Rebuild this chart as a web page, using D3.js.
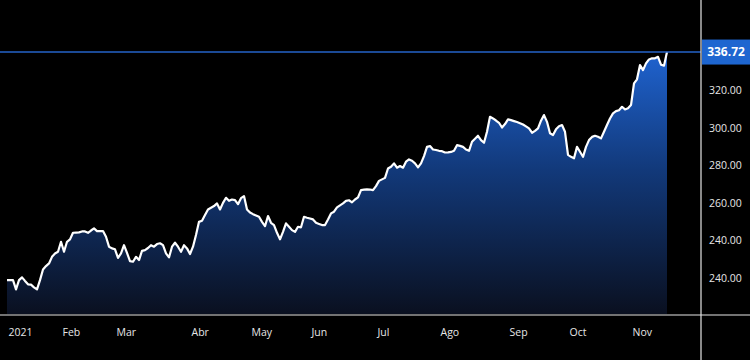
<!DOCTYPE html>
<html>
<head>
<meta charset="utf-8">
<script src="https://cdn.jsdelivr.net/npm/d3@7"></script>
<style>
  html, body { margin: 0; padding: 0; background: #000; }
  svg { display: block; }
  text { font-family: 'Open Sans', 'Noto Sans', sans-serif; }
</style>
</head>
<body>
<div id="chart"></div>
<script>

// daily closes, one per trading day (index 0 = first session of 2021)
const closes = [
    215.4, 215.4, 215.4, 210.5, 215.4, 216.9, 215.0, 213.2, 213.0, 211.6,
    210.5, 215.4, 221.1, 222.9, 224.3, 227.8, 229.6, 230.5, 235.8, 230.5,
    235.8, 237.1, 240.6, 240.7, 240.8, 241.3, 241.3, 240.6, 241.8, 242.9,
    241.5, 241.5, 241.5, 238.5, 233.2, 232.3, 231.8, 227.2, 229.6, 234.0,
    229.9, 225.5, 225.2, 227.8, 226.1, 231.0, 231.4, 232.5, 234.0, 233.2,
    234.6, 235.0, 234.0, 229.6, 227.5, 233.2, 235.3, 233.2, 230.5, 234.0,
    232.3, 229.3, 233.2, 239.4, 246.4, 247.0, 250.0, 253.0, 253.9, 254.8,
    256.2, 253.0, 256.5, 259.2, 257.6, 258.3, 258.0, 255.8, 259.0, 260.1,
    253.0, 251.4, 250.5, 249.8, 249.1, 246.4, 244.1, 249.5, 245.9, 244.7,
    240.6, 237.1, 241.1, 245.6, 243.8, 242.0, 241.1, 243.8, 243.5, 249.1,
    248.6, 248.2, 247.7, 245.9, 245.3, 244.7, 244.7, 247.7, 250.9, 251.8,
    254.1, 255.2, 256.2, 257.6, 257.9, 256.8, 258.3, 259.4, 263.3, 263.5,
    263.7, 263.6, 263.3, 265.4, 268.2, 269.0, 269.8, 274.8, 275.7, 277.5,
    275.2, 276.1, 275.2, 278.4, 279.6, 278.9, 277.5, 275.4, 277.5, 281.4,
    286.3, 286.7, 284.9, 284.6, 284.2, 284.0, 283.3, 283.4, 283.6, 284.2,
    287.2, 286.8, 286.3, 284.9, 284.2, 289.0, 290.6, 292.2, 289.9, 288.5,
    294.3, 302.3, 301.4, 300.3, 299.1, 296.6, 298.4, 300.9, 300.5, 300.0,
    299.5, 298.9, 298.2, 297.2, 296.1, 293.8, 294.8, 296.1, 300.2, 303.2,
    299.6, 293.5, 292.6, 295.6, 297.3, 297.9, 294.3, 282.0, 281.0, 280.2,
    286.3, 283.7, 281.0, 286.3, 289.9, 291.6, 292.2, 291.7, 290.8, 294.3,
    297.9, 301.4, 304.1, 305.3, 305.8, 307.6, 306.2, 306.8, 308.5, 320.1,
    322.2, 329.8, 327.1, 330.7, 332.8, 333.4, 333.4, 334.2, 330.0, 329.5,
    336.72
];

// month labels and the trading-day index where each month starts
const monthLabels = ['2021', 'Feb', 'Mar', 'Abr', 'May', 'Jun', 'Jul', 'Ago', 'Sep', 'Oct', 'Nov'];
const monthStarts = [0, 18, 36, 61, 81, 101, 123, 144, 167, 187, 208];

// price axis ticks (labels as shown in the original, including its repeated 240.00)
const priceTicks = [220, 240, 260, 280, 300, 320];
const priceLabels = ['240.00', '240.00', '260.00', '280.00', '300.00', '320.00'];

const lastPrice = 336.72;

const svgWidth = 750;
const svgHeight = 360;
const plotBottom = 314;
const axisX = 701;

const svg = d3.select('#chart')
    .append('svg')
    .attr('width', svgWidth)
    .attr('height', svgHeight)
    .style('background', '#000');

const xScale = d3.scaleLinear()
    .domain([0, closes.length - 1])
    .range([7, 667]);

const yScale = d3.scaleLinear()
    .domain([197.4, 364.4])
    .range([plotBottom, 0]);

const defs = svg.append('defs');
const grad = defs.append('linearGradient')
    .attr('id', 'fillGrad')
    .attr('gradientUnits', 'userSpaceOnUse')
    .attr('x1', 0).attr('x2', 0)
    .attr('y1', yScale(lastPrice))
    .attr('y2', plotBottom);
grad.append('stop').attr('offset', '0%').attr('stop-color', '#1f63d0');
grad.append('stop').attr('offset', '45%').attr('stop-color', '#12397a');
grad.append('stop').attr('offset', '100%').attr('stop-color', '#0a1020');

const area = d3.area()
    .x((d, i) => xScale(i))
    .y0(plotBottom)
    .y1(d => yScale(d));

const line = d3.line()
    .x((d, i) => xScale(i))
    .y(d => yScale(d));

svg.append('path')
    .datum(closes)
    .attr('d', area)
    .attr('fill', 'url(#fillGrad)');

svg.append('path')
    .datum(closes)
    .attr('d', line)
    .attr('fill', 'none')
    .attr('stroke', '#fff')
    .attr('stroke-width', 2.2)
    .attr('stroke-linejoin', 'round');

// last price line
svg.append('line')
    .attr('x1', 0)
    .attr('x2', axisX)
    .attr('y1', yScale(lastPrice))
    .attr('y2', yScale(lastPrice))
    .attr('stroke', '#2563c9')
    .attr('stroke-width', 1.5);

// axis frame lines
svg.append('line')
    .attr('x1', 0).attr('x2', svgWidth)
    .attr('y1', plotBottom + 1).attr('y2', plotBottom + 1)
    .attr('stroke', '#e6e6e6')
    .attr('stroke-width', 1.2);

svg.append('line')
    .attr('x1', axisX).attr('x2', axisX)
    .attr('y1', 0).attr('y2', svgHeight)
    .attr('stroke', '#e6e6e6')
    .attr('stroke-width', 1.2);

// right price axis
const yAxis = svg.append('g')
    .attr('transform', `translate(${axisX}, 0)`)
    .call(d3.axisRight(yScale)
        .tickValues(priceTicks)
        .tickSize(0)
        .tickPadding(8)
        .tickFormat((d, i) => priceLabels[i]));

yAxis.select('.domain').remove();
yAxis.selectAll('text')
    .attr('fill', '#e6e6e6')
    .attr('font-size', '10.5px')
    .attr('dy', '0.95em');

// bottom month axis
const xAxis = svg.append('g')
    .attr('transform', `translate(0, ${plotBottom + 1})`)
    .call(d3.axisBottom(xScale)
        .tickValues(monthStarts)
        .tickSize(0)
        .tickPadding(14)
        .tickFormat((d, i) => monthLabels[i]));

xAxis.select('.domain').remove();
xAxis.selectAll('text')
    .attr('fill', '#e6e6e6')
    .attr('font-size', '10.5px')
    .attr('text-anchor', 'start')
    .attr('dx', 1);

// last price tag
const tag = svg.append('g')
    .attr('transform', `translate(${axisX + 1}, ${yScale(lastPrice)})`);

tag.append('rect')
    .attr('x', 0)
    .attr('y', -12.5)
    .attr('width', svgWidth - axisX - 1)
    .attr('height', 25)
    .attr('fill', '#1e66d0');

tag.append('text')
    .attr('x', (svgWidth - axisX - 1) / 2)
    .attr('y', 0)
    .attr('dy', '0.35em')
    .attr('text-anchor', 'middle')
    .attr('fill', '#fff')
    .attr('font-size', '12px')
    .attr('font-weight', 'bold')
    .text(lastPrice.toFixed(2));

</script>
</body>
</html>
